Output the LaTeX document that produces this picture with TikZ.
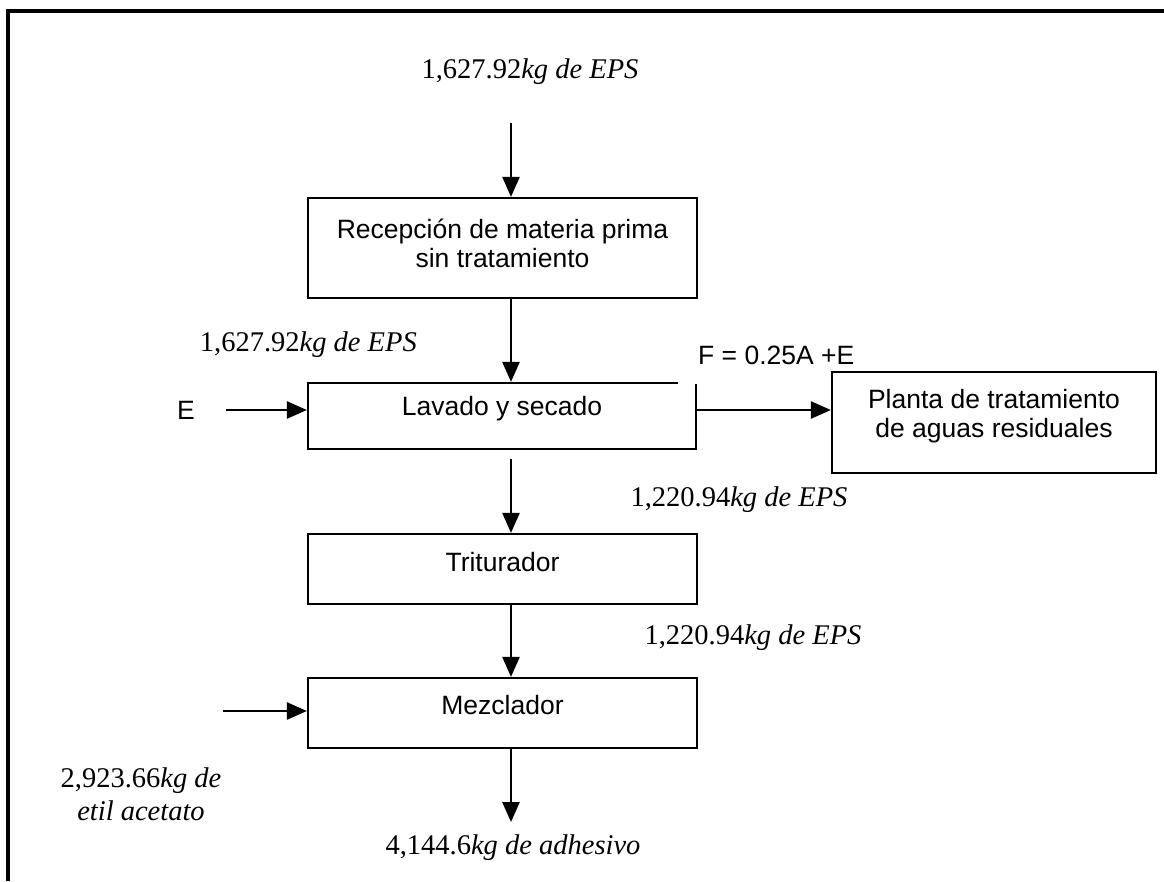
\documentclass[tikz,border=0pt]{standalone}
\usepackage{fontspec}
\setmainfont{Liberation Serif}
\setsansfont{Liberation Sans}
\usetikzlibrary{arrows.meta}
\begin{document}
\begin{tikzpicture}[x=1pt,y=-1pt,
  stage/.style={draw, line width=2.2pt, inner sep=0pt},
  stagetext/.style={font=\fontsize{26.5}{29}\selectfont\sffamily, align=center, inner sep=0pt},
  flow/.style={line width=2.6pt, -{Triangle[length=20pt,width=17pt]}},
  qty/.style={font=\fontsize{28.5}{33}\selectfont, align=center, inner sep=0pt},
  tag/.style={font=\fontsize{26.5}{29}\selectfont\sffamily, inner sep=0pt},
]
\useasboundingbox (0,0) rectangle (1164,881);
% frame: top and left edges only
\draw[line width=4.5pt] (8,881) -- (8,11) -- (1164,11);

% process boxes
\node[stage, minimum width=389pt, minimum height=100pt] (recep) at (502.5,248) {};
\node[stagetext] (receptxt) at (502.5,243) {Recepción de materia prima\\sin tratamiento};

\node[stage, minimum width=388pt, minimum height=66pt] (lav) at (502,416) {};
\node[stagetext] (lavtxt) at (502,409) {Lavado y secado};
% broken top-right corner of the washing box
\draw[white, line width=3.5pt] ([xshift=-19pt]lav.north east) -- ([xshift=1.5pt]lav.north east);

\node[stage, minimum width=324pt, minimum height=101pt] (plant) at (994,422.5) {};
\node[stagetext] (planttxt) at (994,416) {Planta de tratamiento\\de aguas residuales};

\node[stage, minimum width=389pt, minimum height=70pt] (trit) at (502.5,569) {};
\node[stagetext] (trittxt) at (502.5,562) {Triturador};

\node[stage, minimum width=389pt, minimum height=70pt] (mez) at (502.5,713) {};
\node[stagetext] (meztxt) at (502.5,705) {Mezclador};

% mass labels
\node[qty] (q1) at (530,72) {1,627.92\textit{kg de EPS}};
\node[qty, anchor=east] (q2) at (417,345) {1,627.92\textit{kg de EPS}};
\node[qty] (q3) at (739,500) {1,220.94\textit{kg de EPS}};
\node[qty] (q4) at (753,638) {1,220.94\textit{kg de EPS}};
\node[qty] (q5) at (141,794) {2,923.66\textit{kg de}\\\textit{etil acetato}};
\node[qty] (q6) at (513,848) {4,144.6\textit{kg de adhesivo}};

\node[tag] (e) at (186,410) {E};
\node[tag, anchor=west] (f) at (698,355) {F = 0.25A +E};

% flow arrows
\coordinate (top) at (511,123);
\coordinate (ein) at (226,410);
\coordinate (solv) at (223,711);
\coordinate (tritin) at (511,459);
\coordinate (out) at (511,822);

\draw[flow] (top) -- (top |- recep.north);
\draw[flow] (top |- recep.south) -- (top |- lav.north);
\draw[flow] (ein) -- (ein -| lav.west);
\draw[flow] (lav.east |- ein) -- (plant.west |- ein);
\draw[flow] (tritin) -- (tritin |- trit.north);
\draw[flow] (top |- trit.south) -- (top |- mez.north);
\draw[flow] (solv) -- (solv -| mez.west);
\draw[flow] (top |- mez.south) -- (out);
\end{tikzpicture}
\end{document}
